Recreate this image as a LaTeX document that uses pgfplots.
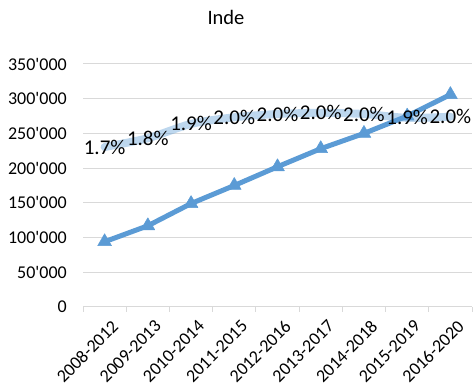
\documentclass[border=0pt]{standalone}
\usepackage{pgfplots}
\pgfplotsset{compat=1.18}
\usepackage{pgfplotstable}
\usepackage{fontspec}
\setmainfont{Carlito}
\definecolor{serieblue}{HTML}{5B9BD5}
\definecolor{gridgray}{HTML}{D9D9D9}

% population (left axis)
\pgfplotstableread{
x pop
0 94000
1 117000
2 149000
3 175000
4 202000
5 228000
6 250000
7 275000
8 306000
}\popdata

% growth rate in % (hidden second scale), lab = shown label
\pgfplotstableread{
x rate lab
0 1.70 1.7
1 1.78 1.8
2 1.91 1.9
3 1.97 2.0
4 2.00 2.0
5 2.01 2.0
6 2.00 2.0
7 1.965 1.9
8 1.975 2.0
}\ratedata

\def\q{\textquotesingle}

\begin{document}
\begin{tikzpicture}
\useasboundingbox (0,0) rectangle (473pt,390pt);
\node[font=\fontsize{20.5}{24}\selectfont] at (226pt,373pt) {Inde};
\begin{axis}[
    at={(83pt,83pt)}, anchor=south west,
    scale only axis, width=389pt, height=243pt,
    xmin=-0.5, xmax=8.5,
    ymin=0, ymax=350000,
    clip=false,
    axis line style={draw=none},
    xtick={0,...,8},
    xticklabels={2008-2012,2009-2013,2010-2014,2011-2015,2012-2016,2013-2017,2014-2018,2015-2019,2016-2020},
    minor xtick={-0.5,0.5,...,8.5},
    ytick={0,50000,100000,150000,200000,250000,300000,350000},
    yticklabels={0,50\q000,100\q000,150\q000,200\q000,250\q000,300\q000,350\q000},
    scaled y ticks=false,
    ymajorgrids,
    major grid style={gridgray, line width=1pt},
    major tick length=0pt,
    minor tick length=5pt,
    tick align=outside,
    xtick pos=bottom, ytick pos=left,
    minor tick style={gridgray, line width=1pt},
    ticklabel style={font=\fontsize{18}{21}\selectfont, text=black},
    yticklabel style={inner sep=0pt, xshift=-16pt},
    xticklabel style={xshift=6pt, yshift=-12pt, rotate=45, anchor=north east, inner sep=0pt},
]
\addplot[serieblue, line width=5pt, line join=round,
    mark=triangle*, mark size=8pt,
    mark options={line width=0.5pt, fill=serieblue, draw=serieblue}]
    table[x=x, y=pop] {\popdata};
\addplot[serieblue, opacity=0.4, line width=8pt, line cap=round,
    smooth, tension=0.5,
    y filter/.expression={(y-0.2455)*350000/2.209}]
    table[x=x, y=rate] {\ratedata};
\addplot[draw=none, mark=none,
    y filter/.expression={(y-0.2455)*350000/2.209},
    point meta=explicit symbolic,
    nodes near coords={\pgfplotspointmeta\%},
    every node near coord/.append style={anchor=center, inner sep=0pt,
        font=\fontsize{21}{24}\selectfont, text=black}]
    table[x=x, y=rate, meta=lab] {\ratedata};
\end{axis}
\end{tikzpicture}
\end{document}
